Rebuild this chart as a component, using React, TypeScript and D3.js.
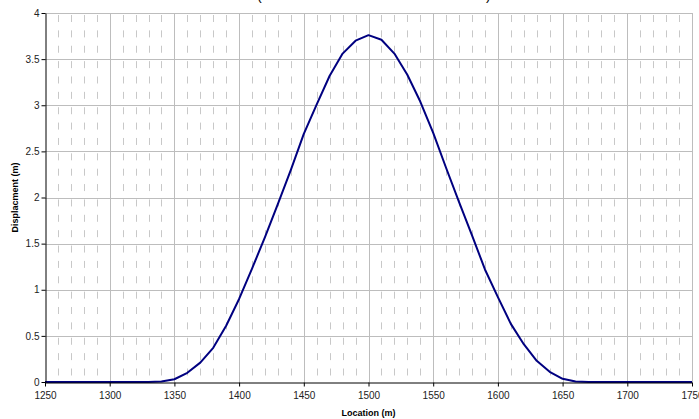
import React, { useEffect, useRef } from 'react';
import * as d3 from 'd3';

// location (m) of each sample
const locations = [
  1250, 1260, 1270, 1280, 1290, 1300, 1310, 1320, 1330, 1340,
  1350, 1360, 1370, 1380, 1390, 1400, 1410, 1420, 1430, 1440,
  1450, 1460, 1470, 1480, 1490, 1500, 1510, 1520, 1530, 1540,
  1550, 1560, 1570, 1580, 1590, 1600, 1610, 1620, 1630, 1640,
  1650, 1660, 1670, 1680, 1690, 1700, 1710, 1720, 1730, 1740, 1750
];

// displacement (m)
const displacement = [
  0, 0, 0, 0, 0, 0, 0, 0, 0, 0.005,
  0.03, 0.10, 0.21, 0.37, 0.61, 0.90, 1.23, 1.57, 1.93, 2.30,
  2.69, 3.01, 3.32, 3.56, 3.70, 3.76, 3.71, 3.56, 3.33, 3.04,
  2.70, 2.32, 1.95, 1.59, 1.22, 0.92, 0.63, 0.41, 0.23, 0.11,
  0.035, 0.005, 0, 0, 0, 0, 0, 0, 0, 0, 0
];

const xTicks = [1250, 1300, 1350, 1400, 1450, 1500, 1550, 1600, 1650, 1700, 1750];
const xMinor = [
  1260, 1270, 1280, 1290, 1310, 1320, 1330, 1340, 1360, 1370, 1380, 1390,
  1410, 1420, 1430, 1440, 1460, 1470, 1480, 1490, 1510, 1520, 1530, 1540,
  1560, 1570, 1580, 1590, 1610, 1620, 1630, 1640, 1660, 1670, 1680, 1690,
  1710, 1720, 1730, 1740
];
const yTicks = [0, 0.5, 1, 1.5, 2, 2.5, 3, 3.5, 4];

function App() {
  const chartRef = useRef<SVGSVGElement>(null);

  useEffect(() => {
    document.body.style.margin = '0';
    drawChart();
  }, []);

  const drawChart = () => {
    const width = 699, height = 419;
    const margin = { top: 13, right: 7, bottom: 37, left: 45 };
    const font = 'Arial, "Liberation Sans", sans-serif';

    d3.select(chartRef.current).selectAll('*').remove();

    const svg = d3.select(chartRef.current)
      .attr('width', width)
      .attr('height', height);

    const x = d3.scaleLinear()
      .domain([1250, 1750])
      .range([margin.left, width - margin.right]);

    const y = d3.scaleLinear()
      .domain([0, 4])
      .range([height - margin.bottom, margin.top]);

    // minor dashed verticals
    svg.append('g')
      .selectAll('line')
      .data(xMinor)
      .join('line')
      .attr('x1', d => Math.round(x(d)) + 0.5)
      .attr('x2', d => Math.round(x(d)) + 0.5)
      .attr('y1', y(4))
      .attr('y2', y(0))
      .attr('stroke', '#c8c8c8')
      .attr('stroke-dasharray', '7 8.37')
      .attr('stroke-dashoffset', -2);

    // major verticals
    svg.append('g')
      .selectAll('line')
      .data(xTicks.slice(1))
      .join('line')
      .attr('x1', d => Math.round(x(d)) + 0.5)
      .attr('x2', d => Math.round(x(d)) + 0.5)
      .attr('y1', y(4))
      .attr('y2', y(0))
      .attr('stroke', '#bdbdbd');

    // horizontals
    svg.append('g')
      .selectAll('line')
      .data(yTicks.slice(1))
      .join('line')
      .attr('x1', x(1250))
      .attr('x2', x(1750))
      .attr('y1', d => Math.round(y(d)) + 0.5)
      .attr('y2', d => Math.round(y(d)) + 0.5)
      .attr('stroke', '#bdbdbd');

    const line = d3.line<number>()
      .x((d, i) => x(locations[i]))
      .y(d => y(d));

    svg.append('path')
      .datum(displacement)
      .attr('d', line)
      .attr('fill', 'none')
      .attr('stroke', '#000080')
      .attr('stroke-width', 2)
      .attr('stroke-linejoin', 'round');

    // axes
    const xAxis = svg.append('g')
      .attr('transform', `translate(0,${Math.round(y(0)) + 0.5})`)
      .call(d3.axisBottom(x).tickValues(xTicks).tickSize(4).tickSizeOuter(0).tickFormat(d3.format('d')));
    xAxis.select('.domain').attr('stroke', '#000');
    xAxis.selectAll('text')
      .style('font-size', '10px')
      .style('font-family', font)
      .attr('fill', '#222')
      .attr('dy', '0.95em');

    const yAxis = svg.append('g')
      .attr('transform', `translate(${Math.round(x(1250)) + 0.5},0)`)
      .call(d3.axisLeft(y).tickValues(yTicks).tickSize(4).tickSizeOuter(0).tickFormat(d3.format('')));
    yAxis.select('.domain').attr('stroke', '#000');
    yAxis.selectAll('text')
      .style('font-size', '10px')
      .style('font-family', font)
      .attr('fill', '#222')
      .attr('x', -6);

    svg.append('text')
      .attr('x', (x(1250) + x(1750)) / 2)
      .attr('y', 416)
      .attr('text-anchor', 'middle')
      .style('font-family', font)
      .style('font-size', '9px')
      .style('font-weight', 'bold')
      .text('Location (m)');

    svg.append('text')
      .attr('transform', `translate(18,${(y(0) + y(4)) / 2}) rotate(-90)`)
      .attr('text-anchor', 'middle')
      .style('font-family', font)
      .style('font-size', '9px')
      .style('font-weight', 'bold')
      .text('Displacment (m)');

    // bottom of the clipped title
    svg.append('text')
      .attr('x', 257)
      .attr('y', 0)
      .style('font-family', font)
      .style('font-size', '14px')
      .text('(');
    svg.append('text')
      .attr('x', 486)
      .attr('y', 0)
      .style('font-family', font)
      .style('font-size', '14px')
      .text(')');
  };

  return (
    <div>
      <svg ref={chartRef} style={{ display: 'block' }}></svg>
    </div>
  );
}

export default App;
